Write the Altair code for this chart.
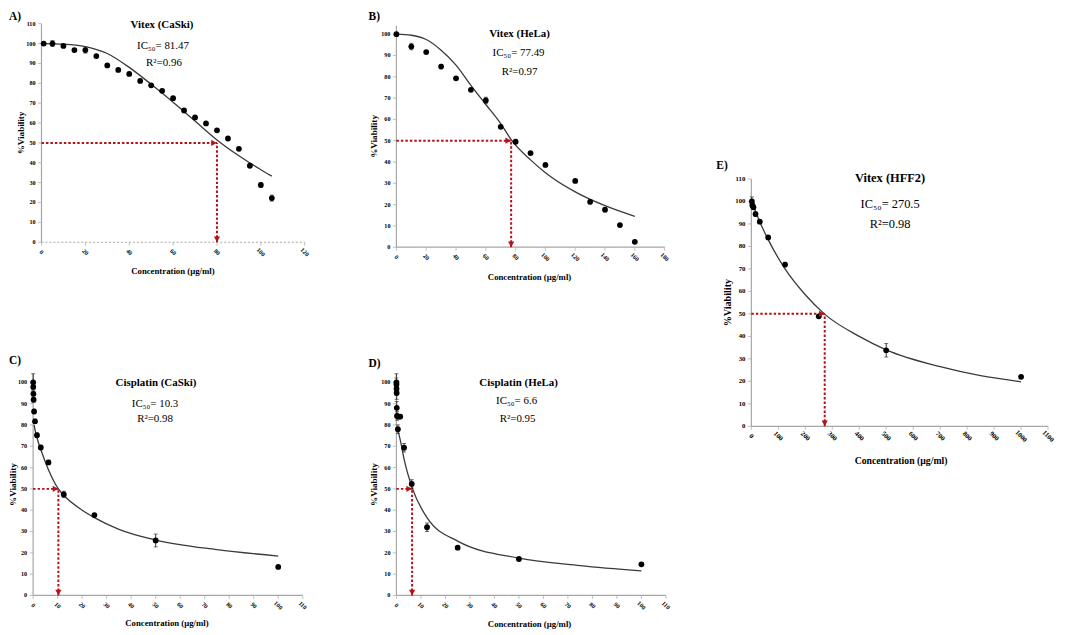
import altair as alt
import pandas as pd

# ---------------- data ----------------
A_conc = [1, 5, 10, 15, 20, 25, 30, 35, 40, 45, 50, 55, 60, 65, 70, 75, 80, 85, 90, 95, 100, 105]
A_viab = [100, 100, 98.8, 96.7, 96.7, 93.7, 89, 86.7, 84.7, 81.2, 79, 76.2, 72.5, 66.3, 62.8, 59.8, 56.3, 52.2, 47, 38.5, 28.8, 22.2]
A_err = [0, 1.5, 0.5, 0, 1.5, 0, 0, 0, 0, 0, 0, 0, 0, 0, 0, 0, 0, 0, 0, 0, 1, 1.5]
A_fit_x = [0, 10, 20, 30, 40, 50, 60, 70, 80, 90, 100, 105]
A_fit_y = [100, 99.7, 98.5, 95, 88, 79.5, 70.5, 61, 51.5, 43.5, 36.5, 33.3]

B_conc = [0, 10, 20, 30, 40, 50, 60, 70, 80, 90, 100, 120, 130, 140, 150, 160]
B_viab = [100, 94.2, 91.6, 84.8, 79.3, 73.9, 68.9, 56.5, 49.5, 44.2, 38.6, 31.1, 21.3, 17.6, 10.4, 2.5]
B_err = [0.5, 1.5, 0, 1, 0, 0, 1.5, 0, 0, 0, 0, 0, 1, 1, 0, 0]
B_fit_x = [0, 10, 20, 30, 40, 50, 60, 70, 77.5, 90, 100, 120, 140, 160]
B_fit_y = [100, 99.5, 97.5, 92.5, 85.5, 76, 67, 58, 50, 41, 35, 26, 19.5, 14.5]

C_conc = [0.02, 0.05, 0.1, 0.2, 0.39, 0.78, 1.56, 3.125, 6.25, 12.5, 25, 50, 100]
C_viab = [100, 97.8, 94.6, 91.8, 86.3, 81.7, 75.2, 69.4, 62.4, 47.4, 37.7, 25.8, 13.4]
C_err = [4, 1, 1, 1, 1, 1, 1, 1, 1, 1.5, 0.5, 3, 0.5]
C_fit_x = [0.4, 1, 1.56, 3.125, 6.25, 10.3, 12.5, 20, 25, 35, 50, 75, 100]
C_fit_y = [80, 76.5, 74, 68.5, 59, 50, 47, 40, 36.5, 31, 26, 21.5, 18.5]

D_conc = [0.01, 0.02, 0.05, 0.1, 0.15, 0.25, 0.6, 0.78, 1.56, 3.125, 6.25, 12.5, 25, 50, 100]
D_viab = [100, 99, 97, 95, 88, 84.2, 78, 83.9, 83.9, 69.3, 52.3, 32, 22.4, 17.1, 14.6]
D_err = [4, 3, 3, 3, 3, 2, 2, 1, 1, 2, 2, 2, 0.5, 0.5, 0.5]
D_fit_x = [0.5, 1.56, 3.125, 6.6, 12.5, 25, 50, 75, 100]
D_fit_y = [78, 73, 64, 50, 36.5, 25.5, 17.5, 14, 11.5]

E_conc = [1.95, 3.9, 7.8, 15.6, 31.25, 62.5, 125, 250, 500, 1000]
E_viab = [100, 98.3, 97.4, 94.4, 91, 84, 71.9, 48.9, 33.8, 22]
E_err = [2, 1, 1, 1, 0.5, 0.5, 1, 0.5, 3, 0.5]
E_fit_x = [2, 15.6, 31.25, 62.5, 125, 200, 270.5, 400, 500, 700, 850, 1000]
E_fit_y = [99.5, 95.5, 91, 83, 70, 58.5, 50, 40, 34, 26.5, 22.5, 19.8]

ARROW_X = {"A": 80, "B": 77, "C": 10.3, "D": 6.4, "E": 272}
TITLES = {"A": "Vitex (CaSki)", "B": "Vitex (HeLa)", "C": "Cisplatin (CaSki)",
          "D": "Cisplatin (HeLa)", "E": "Vitex (HFF2)"}
IC50_TXT = {"A": "IC₅₀= 81.47", "B": "IC₅₀= 77.49", "C": "IC₅₀= 10.3",
            "D": "IC₅₀= 6.6", "E": "IC₅₀= 270.5"}
R2_TXT = {"A": "R²=0.96", "B": "R²=0.97", "C": "R²=0.98", "D": "R²=0.95", "E": "R²=0.98"}
X_TITLE = "Concentration (µg/ml)"
Y_TITLE = "%Viability"

X_TICKS = {"A": list(range(0, 121, 20)), "B": list(range(0, 181, 20)),
           "C": list(range(0, 111, 10)), "D": list(range(0, 111, 10)),
           "E": list(range(0, 1101, 100))}
Y_TICKS = {"A": list(range(0, 111, 10)), "B": list(range(0, 101, 10)),
           "C": list(range(0, 101, 10)), "D": list(range(0, 101, 10)),
           "E": list(range(0, 111, 10))}
X_DOM = {"A": [0, 120], "B": [0, 180], "C": [0, 110], "D": [0, 110], "E": [0, 1100]}
Y_DOM = {"A": [0, 110], "B": [0, 104], "C": [0, 104], "D": [0, 104], "E": [0, 110]}

# ---------------- layout (page pixels) ----------------
PAD_L, PAD_T = 16, 16
OX, OY = 8 + PAD_L, 8 + PAD_T  # page margin + padding
W, H = 1040, 610
FONT = "Liberation Serif"

LAYOUT = {
    "A": dict(x0=41.7, x1=306.7, y0=241.7, y1=21.7, lab=(9, 15), tit=(163, 22.7), ic=(164, 44), r2=(165, 61.7),
              xt=(174, 270.7), yt=20.7, fs=11, afs=8.8, dash=True),
    "B": dict(x0=399, x1=669, y0=246.7, y1=23.7, lab=(371, 15), tit=(523, 31.7), ic=(522, 51.7), r2=(523, 70),
              xt=(533, 276.7), yt=376.7, fs=11, afs=8.8, dash=False),
    "C": dict(x0=33.3, x1=304.7, y0=597.3, y1=374.1, lab=(9, 361.7), tit=(157, 383.3), ic=(156, 405), r2=(156, 420),
              xt=(168, 625), yt=13.3, fs=11, afs=8.8, dash=False),
    "D": dict(x0=399, x1=670.3, y0=597.3, y1=374.1, lab=(371, 364.3), tit=(522, 383.3), ic=(520, 401.7), r2=(521, 420),
              xt=(533, 626), yt=376.7, fs=11, afs=8.8, dash=False),
    "E": dict(x0=756.3, x1=1055, y0=427, y1=178, lab=(721, 165), tit=(896, 177), ic=(896, 203.3), r2=(896, 223.3),
              xt=(907, 462.3), yt=733.3, fs=12.5, afs=9.8, dash=False),
}

RED = "#b3121b"
CURVE = "#3a3a3a"
AXIS = "#a6a6a6"

SERIES = {
    "A": (A_conc, A_viab, A_err, A_fit_x, A_fit_y),
    "B": (B_conc, B_viab, B_err, B_fit_x, B_fit_y),
    "C": (C_conc, C_viab, C_err, C_fit_x, C_fit_y),
    "D": (D_conc, D_viab, D_err, D_fit_x, D_fit_y),
    "E": (E_conc, E_viab, E_err, E_fit_x, E_fit_y),
}


def panel(key):
    L = LAYOUT[key]
    xs, ys, es, fx, fy = SERIES[key]
    sx = alt.Scale(domain=X_DOM[key], range=[L["x0"] - OX, L["x1"] - OX], nice=False, zero=False)
    sy = alt.Scale(domain=Y_DOM[key], range=[L["y0"] - OY, L["y1"] - OY], nice=False, zero=False)
    X = lambda f: alt.X(f, scale=sx, axis=None)
    Y = lambda f: alt.Y(f, scale=sy, axis=None)
    lab_fs = 6.8 if key == "E" else 6.2
    x0, x1 = X_DOM[key]
    y0, y1 = Y_DOM[key]

    # ---- hand-drawn axes (Excel style) ----
    xt = pd.DataFrame({"v": X_TICKS[key], "lbl": [str(v) for v in X_TICKS[key]]})
    xt["y"] = y0
    yt = pd.DataFrame({"v": Y_TICKS[key], "lbl": [str(v) for v in Y_TICKS[key]]})
    yt["x"] = x0
    xdom = pd.DataFrame({"x": [x0], "x2": [x1], "y": [y0]})
    ydom = pd.DataFrame({"x": [x0], "y": [y0], "y2": [y1]})

    x_line = alt.Chart(xdom).mark_rule(color=AXIS, strokeWidth=1.2,
                                       strokeDash=[2, 2] if L["dash"] else [1, 0]).encode(
        x=X("x:Q"), x2="x2:Q", y=Y("y:Q"))
    y_line = alt.Chart(ydom).mark_rule(color=AXIS, strokeWidth=1.2).encode(
        x=X("x:Q"), y=Y("y:Q"), y2="y2:Q")
    x_tk = alt.Chart(xt).mark_tick(orient="vertical", size=3.5, thickness=1, color=AXIS, yOffset=1.8).encode(
        x=X("v:Q"), y=Y("y:Q"))
    y_tk = alt.Chart(yt).mark_tick(orient="horizontal", size=3.5, thickness=1, color=AXIS, xOffset=-1.8).encode(
        x=X("x:Q"), y=Y("v:Q"))
    x_lb = alt.Chart(xt).mark_text(font=FONT, fontSize=lab_fs, fontWeight="bold", color="black", angle=45,
                                   align="center", baseline="middle", yOffset=10).encode(
        x=X("v:Q"), y=Y("y:Q"), text="lbl:N")
    y_lb = alt.Chart(yt).mark_text(font=FONT, fontSize=lab_fs, fontWeight="bold", color="black",
                                   align="right", baseline="middle", xOffset=-6).encode(
        x=X("x:Q"), y=Y("v:Q"), text="lbl:N")

    # ---- data marks ----
    pts = pd.DataFrame({"x": xs, "y": ys, "e": es})
    pts["lo"] = pts["y"] - pts["e"]
    pts["hi"] = pts["y"] + pts["e"]
    err = pts[pts["e"] > 0]
    fit = pd.DataFrame({"x": fx, "y": fy})
    ax50 = ARROW_X[key]
    hline = pd.DataFrame({"x": [x0], "x2": [ax50], "y": [50]})
    vline = pd.DataFrame({"x": [ax50], "y": [y0], "y2": [50]})

    curve = alt.Chart(fit).mark_line(color=CURVE, strokeWidth=1.3, interpolate="monotone").encode(
        x=X("x:Q"), y=Y("y:Q"))
    hr = alt.Chart(hline).mark_rule(color=RED, strokeWidth=2, strokeDash=[2.5, 2]).encode(
        x=X("x:Q"), x2="x2:Q", y=Y("y:Q"))
    vr = alt.Chart(vline).mark_rule(color=RED, strokeWidth=2, strokeDash=[2.5, 2]).encode(
        x=X("x:Q"), y=Y("y:Q"), y2="y2:Q")
    head_r = alt.Chart(hline).mark_point(shape="triangle-right", filled=True, color=RED, size=40,
                                         opacity=1, xOffset=-3).encode(x=X("x2:Q"), y=Y("y:Q"))
    head_d = alt.Chart(vline).mark_point(shape="triangle-down", filled=True, color=RED, size=40,
                                         opacity=1, yOffset=-3).encode(x=X("x:Q"), y=Y("y:Q"))
    bars = alt.Chart(err).mark_errorbar(ticks={"size": 4, "color": "#333333"},
                                        rule={"strokeWidth": 1, "color": "#333333"}).encode(
        x=X("x:Q"), y=Y("lo:Q"), y2="hi:Q")
    dots = alt.Chart(pts).mark_circle(color="black", size=34, opacity=1).encode(x=X("x:Q"), y=Y("y:Q"))
    return alt.layer(x_line, y_line, x_tk, y_tk, x_lb, y_lb, curve, hr, vr, bars, dots, head_r, head_d)


# ---------------- text annotations ----------------
rows_bold, rows_reg, rows_lab = [], [], []
for k, L in LAYOUT.items():
    rows_lab.append({"t": f"{k})", "px": L["lab"][0] - OX, "py": L["lab"][1] - OY, "fs": 11.5})
    rows_bold.append({"t": TITLES[k], "px": L["tit"][0] - OX, "py": L["tit"][1] - OY, "fs": L["fs"], "a": 0})
    rows_bold.append({"t": X_TITLE, "px": L["xt"][0] - OX, "py": L["xt"][1] - OY, "fs": L["afs"], "a": 0})
    rows_bold.append({"t": Y_TITLE, "px": L["yt"] - OX, "py": (L["y0"] + L["y1"]) / 2 - OY,
                      "fs": L["afs"] + 0.4, "a": 270})
    rows_reg.append({"t": IC50_TXT[k], "px": L["ic"][0] - OX, "py": L["ic"][1] - OY, "fs": L["fs"]})
    rows_reg.append({"t": R2_TXT[k], "px": L["r2"][0] - OX, "py": L["r2"][1] - OY, "fs": L["fs"]})

t_lab = alt.Chart(pd.DataFrame(rows_lab)).mark_text(font=FONT, fontWeight="bold", align="left",
                                                    baseline="middle", color="black").encode(
    x=alt.X("px:Q", scale=None), y=alt.Y("py:Q", scale=None), text="t:N", size=alt.Size("fs:Q", scale=None))
t_bold = alt.Chart(pd.DataFrame(rows_bold)).mark_text(font=FONT, fontWeight="bold", align="center",
                                                      baseline="middle", color="black").encode(
    x=alt.X("px:Q", scale=None), y=alt.Y("py:Q", scale=None), text="t:N",
    size=alt.Size("fs:Q", scale=None), angle=alt.Angle("a:Q", scale=None))
t_reg = alt.Chart(pd.DataFrame(rows_reg)).mark_text(font=FONT, align="center", baseline="middle",
                                                    color="black").encode(
    x=alt.X("px:Q", scale=None), y=alt.Y("py:Q", scale=None), text="t:N", size=alt.Size("fs:Q", scale=None))

chart = alt.layer(
    panel("A"), panel("B"), panel("C"), panel("D"), panel("E"), t_lab, t_bold, t_reg
).resolve_scale(x="independent", y="independent").properties(
    width=W, height=H,
    padding={"left": PAD_L, "top": PAD_T, "right": 0, "bottom": 0},
    autosize=alt.AutoSizeParams(type="none"),
    background="white",
).configure_view(stroke=None)

chart.save("out.html", embed_options={"renderer": "svg", "actions": False})
